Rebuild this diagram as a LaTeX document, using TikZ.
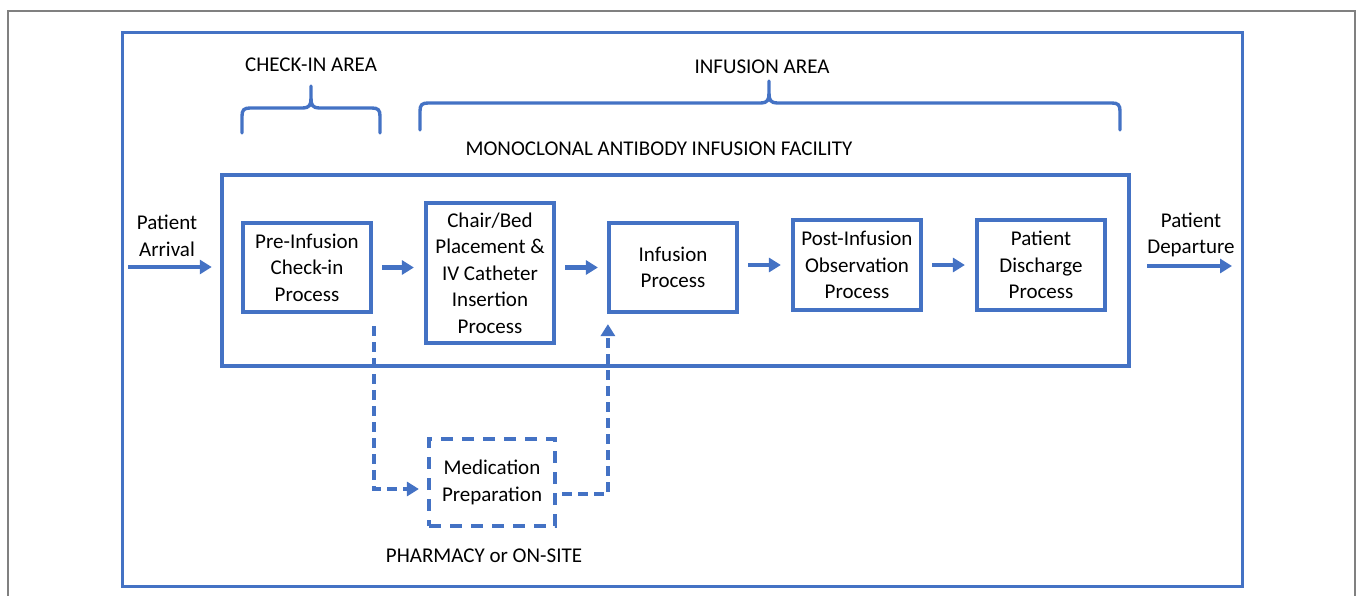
\documentclass[tikz,border=0pt]{standalone}
\usepackage{fontspec}
\setmainfont{Carlito}
\usetikzlibrary{arrows.meta}
\definecolor{ob}{HTML}{4472C4}
\begin{document}
\begin{tikzpicture}[x=1pt,y=-1pt,
  txt/.style={align=center, inner sep=0pt, font=\fontsize{21}{26.5}\selectfont},
  box/.style={txt, draw=ob, line width=4.2pt},
  dbox/.style={txt, draw=ob, line width=4.2pt, dash pattern=on 12pt off 9pt},
  arr/.style={draw=ob, line width=4.5pt, -{Triangle[length=12pt,width=14pt]}},
  darr/.style={draw=ob, line width=4pt, dash pattern=on 10pt off 6pt, -{Triangle[length=12pt,width=14pt]}},
  brace/.style={draw=ob, line width=3.4pt, line cap=round, line join=round}]
\useasboundingbox (0,0) rectangle (1357,595);
% gray frame
\draw[gray, line width=1.5pt] (8,596) -- (8,11) -- (1355,11) -- (1355,596);
% outer blue frame
\draw[ob, line width=3.2pt] (122.5,32.5) rectangle (1242.5,586.5);
% facility
\node[draw=ob, line width=4.5pt, minimum width=907pt, minimum height=191pt, inner sep=0pt] (fac) at (675.5,270.5) {};
% boxes
\node[box, minimum width=128pt, minimum height=89pt] (pre) at (307,267.5) {Pre-Infusion\\Check-in\\Process};
\node[box, minimum width=128pt, minimum height=140pt] (chair) at (490,273) {Chair/Bed\\Placement \&\\IV Catheter\\Insertion\\Process};
\node[box, minimum width=128pt, minimum height=89pt] (inf) at (673,267.5) {Infusion\\Process};
\node[box, minimum width=128pt, minimum height=90pt] (post) at (857,265) {Post-Infusion\\Observation\\Process};
\node[box, minimum width=128pt, minimum height=90pt] (dis) at (1041,265) {Patient\\Discharge\\Process};
\node[dbox, minimum width=126pt, minimum height=87pt] (med) at (492,482.5) {Medication\\Preparation};
% labels
\node[txt] (ci) at (311,65) {CHECK-IN AREA};
\node[txt] (ia) at (762,67) {INFUSION AREA};
\node[txt] (mf) at (659,149) {MONOCLONAL ANTIBODY INFUSION FACILITY};
\node[txt] (pa) at (167,236) {Patient\\Arrival};
\node[txt] (pd) at (1191,235) {Patient\\Departure};
\node[txt] (ph) at (484,556) {PHARMACY or ON-SITE};
% braces
\draw[brace] (242,133) -- (242,116) .. controls (242,110) and (244,108) .. (250,108) -- (303,108) .. controls (309,108) and (311,105) .. (311,99) -- (311,86);
\draw[brace] (311,99) .. controls (311,105) and (313,108) .. (319,108) -- (372,108) .. controls (378,108) and (380,110) .. (380,116) -- (380,133);
\draw[brace] (420,130) -- (420,111) .. controls (420,105) and (422,103) .. (428,103) -- (761,103) .. controls (767,103) and (769,100) .. (769,94) -- (769,81);
\draw[brace] (769,94) .. controls (769,100) and (771,103) .. (777,103) -- (1112,103) .. controls (1118,103) and (1120,105) .. (1120,111) -- (1120,130);
% main flow
\coordinate (arrS) at (128,267);
\coordinate (depE) at (1232,266);
\draw[arr, shorten >=8pt] (arrS) -- (arrS -| fac.west);
\draw[arr, shorten <=9pt, shorten >=10pt] (pre.east) -- (pre.east -| chair.west);
\draw[arr, shorten <=9pt, shorten >=9pt] (chair.east |- pre.east) -- (pre.east -| inf.west);
\draw[arr, shorten <=9pt, shorten >=10pt] (inf.east |- post.east) -- (post.west);
\draw[arr, shorten <=9pt, shorten >=10pt] (post.east) -- (dis.west);
\draw[arr, shorten <=16pt] (fac.east |- depE) -- (depE);
% dashed flow
\draw[darr, shorten <=12pt, shorten >=8pt] ([xshift=1pt]pre.south east) |- ([yshift=-6.5pt]med.west);
\draw[darr, shorten <=5pt, shorten >=10pt] ([yshift=-11.5pt]med.east) -| ([xshift=1pt]inf.south west);
\end{tikzpicture}
\end{document}
